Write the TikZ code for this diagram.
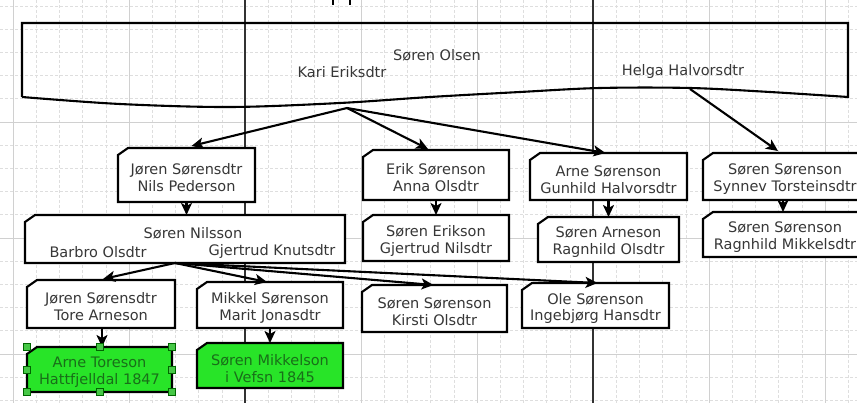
\documentclass[tikz,border=0pt]{standalone}
\usepackage{fontspec}
\setmainfont{DejaVu Sans}
\usetikzlibrary{arrows.meta,calc}
\definecolor{txtc}{RGB}{55,55,55}
\definecolor{gridc}{RGB}{222,222,222}
\definecolor{majc}{RGB}{208,208,208}
\definecolor{pagec}{RGB}{50,50,50}
\definecolor{grn}{RGB}{40,228,40}
\definecolor{grntxt}{RGB}{25,110,25}
\definecolor{hnd}{RGB}{70,200,70}
\tikzset{
  boxn/.style={inner sep=0pt, outer sep=0pt},
  boxline/.style={draw=black, line width=2.1pt, line join=miter, fill=white},
  txt/.style={font=\fontsize{14.5}{17}\selectfont, text=txtc, align=center, inner sep=0pt},
  arr/.style={draw=black, line width=2.1pt, -{Stealth[length=12pt,width=11pt,inset=3pt]}},
  handle/.style={draw=black!60!green, fill=hnd, line width=0.8pt, minimum size=7pt, inner sep=0pt},
  minorgrid/.style={draw=gridc, line width=0.6pt, dash pattern=on 3pt off 2pt},
  majorgrid/.style={draw=majc, line width=0.6pt},
  pageline/.style={draw=pagec, line width=1.3pt}
}
\newcommand\chamfbox[2]{\path[boxline,#2] ([yshift=-7pt]#1.north west) -- ([xshift=10pt]#1.north west) -- (#1.north east) -- (#1.south east) -- (#1.south west) -- cycle;}
\newcommand\famnode[8]{%
  \node[boxn, minimum width=#4pt, minimum height=#5pt] (#1) at (#2,#3) {};
  \chamfbox{#1}{#7}
  \node[txt,#8] (#1-t) at ([yshift=-3pt]#1.center) {#6};
}
\begin{document}
\begin{tikzpicture}[x=1pt,y=-1pt]
\useasboundingbox (0,0) rectangle (857,403);
\fill[white] (0,0) rectangle (857,403);
\clip (0,0) rectangle (857,403);
% grid
\foreach \i in {-11,...,27} {
  \pgfmathsetmacro\xx{245+23.2*\i}
  \draw[minorgrid] (\xx,0) -- (\xx,403);
}
\foreach \i in {0,...,17} {
  \pgfmathsetmacro\yy{6+23.2*\i}
  \draw[minorgrid] (0,\yy) -- (857,\yy);
}
\foreach \xx in {13,129,361,477,709,825} \draw[majorgrid] (\xx,0) -- (\xx,403);
\foreach \yy in {122,238,354} \draw[majorgrid] (0,\yy) -- (857,\yy);
\draw[pageline] (245,0) -- (245,403);
\draw[pageline] (593,0) -- (593,403);
\draw[black, line width=2pt] (333,0) -- (333,5) (350,0) -- (350,5);
% top box
\draw[black, line width=2.1pt, line join=miter]
  (22,97) -- (22,23) -- (848,23) -- (848,97)
  -- plot[smooth, tension=0.55] coordinates {(848,97) (770,92) (690,88) (600,88) (520,92) (430,97) (340,103) (230,107) (120,104) (22,97)};
\node[txt] (so) at (437,55) {Søren Olsen};
\node[txt] (ke) at (342,72) {Kari Eriksdtr};
\node[txt] (hh) at (683,72) {Helga Halvorsdtr};
\coordinate (kari) at (347,108);
\coordinate (helga) at (690,89);
% families
\famnode{jn}{186.5}{175}{137}{54}{Jøren Sørensdtr\\Nils Pederson}{}{}
\famnode{ea}{436}{175}{146}{50}{Erik Sørenson\\Anna Olsdtr}{}{}
\famnode{ag}{608.5}{176.5}{157}{47}{Arne Sørenson\\Gunhild Halvorsdtr}{}{}
\famnode{ss}{785}{176.5}{164}{47}{Søren Sørenson\\Synnev Torsteinsdtr}{}{}
\node[boxn, minimum width=320pt, minimum height=48pt] (sn) at (185,239) {};
\chamfbox{sn}{}
\node[txt] (sn-a) at (193,233) {Søren Nilsson};
\node[txt] (sn-b) at (98,252) {Barbro Olsdtr};
\node[txt] (sn-c) at (272,252) {Gjertrud Knutsdtr};
\famnode{sg}{436}{238}{146}{46}{Søren Erikson\\Gjertrud Nilsdtr}{}{}
\famnode{sa}{608.5}{239.5}{141}{45}{Søren Arneson\\Ragnhild Olsdtr}{}{}
\famnode{sr}{785}{234.5}{164}{45}{Søren Sørenson\\Ragnhild Mikkelsdtr}{}{}
\famnode{jt}{101}{304}{148}{48}{Jøren Sørensdtr\\Tore Arneson}{}{}
\famnode{mm}{270}{305}{146}{46}{Mikkel Sørenson\\Marit Jonasdtr}{}{}
\famnode{sk}{434.5}{308.5}{145}{47}{Søren Sørenson\\Kirsti Olsdtr}{}{}
\famnode{oi}{595.5}{305.5}{147}{45}{Ole Sørenson\\Ingebjørg Hansdtr}{}{}
\famnode{at}{99.5}{369.5}{145}{45}{Arne Toreson\\Hattfjelldal 1847}{fill=grn}{text=grntxt}
\famnode{sm}{270}{365.5}{146}{45}{Søren Mikkelson\\i Vefsn 1845}{fill=grn}{text=grntxt}
% arrows
\draw[arr] (kari) -- ([xshift=5pt,yshift=2pt]jn.north);
\draw[arr] (kari) -- ([xshift=-8pt,yshift=1pt]ea.north);
\draw[arr] (kari) -- ([xshift=-3pt]ag.north);
\draw[arr] (helga) -- ([xshift=-7pt,yshift=2pt]ss.north);
\draw[arr] (jn.south) -- (jn.south |- sn.north);
\draw[arr] (ea.south) -- (ea.south |- sg.north);
\draw[arr] (ag.south) -- (ag.south |- sa.north);
\draw[arr] ([xshift=-2pt]ss.south) -- ([xshift=-2pt]ss.south |- sr.north);
\coordinate (snb) at ([xshift=-10pt]sn.south);
\draw[arr] (snb) -- ([xshift=2pt,yshift=1pt]jt.north);
\draw[arr] (snb) -- ([xshift=-3pt]mm.north);
\draw[arr] (snb) -- ([xshift=-1pt]sk.north);
\draw[arr] (snb) -- ([xshift=2pt]oi.north);
\draw[arr] ([xshift=1pt]jt.south) -- ([xshift=1pt]jt.south |- at.north);
\draw[arr] (mm.south) -- (mm.south |- sm.north);
% selection handles
\foreach \a [count=\k] in {north west,north,north east,west,east,south west,south,south east}
  \node[handle] (h\k) at (at.\a) {};
\end{tikzpicture}
\end{document}
